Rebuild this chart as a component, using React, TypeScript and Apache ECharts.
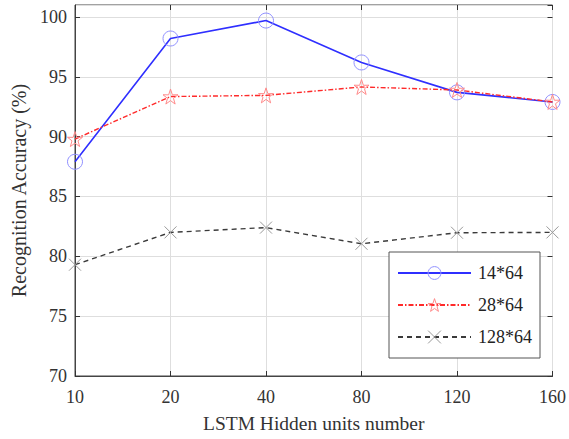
import React, { useEffect, useRef } from "react";
import * as echarts from "echarts";

const categories = ["10", "20", "40", "80", "120", "160"];
const series14 = [87.9, 98.2, 99.7, 96.2, 93.7, 92.9];
const series28 = [89.8, 93.35, 93.45, 94.15, 93.9, 92.9];
const series128 = [79.3, 82.0, 82.4, 81.05, 81.97, 82.0];
const seriesNames = ["14*64", "28*64", "128*64"];
const markerColors = ["#9090ff", "#ff8a8a", "#999999"];

const FONT = "Liberation Serif";
const STAR =
  "path://M50,0 L61.8,35.1 L97.6,34.5 L69,56.1 L79.4,90.5 L50,69.7 L20.6,90.5 L31,56.1 L2.4,34.5 L38.2,35.1 Z";
const CROSS = "path://M0,0 L100,100 M100,0 L0,100";

export default function App() {
  const ref = useRef<HTMLDivElement>(null);
  useEffect(() => {
    if (!ref.current) return;
    const chart = echarts.init(ref.current, null, { renderer: "svg" });
    const tick = { show: true, inside: true, length: 5, lineStyle: { color: "#333" } };
    chart.setOption({
      animation: false,
      backgroundColor: "#fff",
      textStyle: { fontFamily: FONT },
      grid: {
        left: 75,
        right: 16,
        top: 5,
        bottom: 63,
        show: true,
        borderColor: "#444",
        borderWidth: 1,
        backgroundColor: "transparent",
      },
      legend: {
        data: seriesNames.map((n, i) => ({
          name: n,
          itemStyle: { color: "rgba(0,0,0,0)", borderColor: markerColors[i], borderWidth: 1 },
        })),
        orient: "vertical",
        left: 389,
        top: 252,
        width: 153,
        padding: [12, 8, 12, 8],
        itemGap: 14,
        itemWidth: 73,
        itemHeight: 16,
        backgroundColor: "#fff",
        borderColor: "#555",
        borderWidth: 1,
        borderRadius: 0,
        textStyle: { fontFamily: FONT, fontSize: 18, color: "#222", padding: [0, 0, 0, 2] },
      },
      xAxis: [
        {
          type: "category",
          data: categories,
          boundaryGap: false,
          position: "bottom",
          name: "LSTM Hidden units number",
          nameLocation: "middle",
          nameGap: 37,
          nameTextStyle: { fontFamily: FONT, fontSize: 19.5, color: "#333" },
          axisLine: { show: true, lineStyle: { color: "#444" } },
          axisTick: { ...tick, alignWithLabel: true },
          axisLabel: { fontFamily: FONT, fontSize: 18, color: "#333", margin: 12 },
          splitLine: { show: true, lineStyle: { color: "#dedede" } },
        },
        {
          type: "category",
          data: categories,
          boundaryGap: false,
          position: "top",
          axisLine: { show: false },
          axisTick: { ...tick, alignWithLabel: true },
          axisLabel: { show: false },
          splitLine: { show: false },
        },
      ],
      yAxis: [
        {
          type: "value",
          min: 70,
          max: 101,
          interval: 5,
          position: "left",
          name: "Recognition Accuracy (%)",
          nameLocation: "middle",
          nameGap: 46,
          nameTextStyle: { fontFamily: FONT, fontSize: 20, color: "#333" },
          axisLine: { show: true, lineStyle: { color: "#444" } },
          axisTick: tick,
          axisLabel: {
            fontFamily: FONT,
            fontSize: 18,
            color: "#333",
            margin: 8,
            showMaxLabel: false,
            formatter: (v: number) => (v % 5 === 0 ? String(v) : ""),
          },
          splitLine: { show: true, lineStyle: { color: "#dedede" } },
        },
        {
          type: "value",
          min: 70,
          max: 101,
          interval: 5,
          position: "right",
          axisLine: { show: false },
          axisTick: tick,
          axisLabel: { show: false },
          splitLine: { show: false },
        },
      ],
      series: [
        {
          name: seriesNames[0],
          type: "line",
          data: series14,
          symbol: "circle",
          symbolSize: 15,
          showAllSymbol: true,
          lineStyle: { color: "#2f2fff", width: 1.6, type: "solid" },
          itemStyle: { color: "rgba(0,0,0,0)", borderColor: markerColors[0], borderWidth: 1 },
          z: 3,
        },
        {
          name: seriesNames[1],
          type: "line",
          data: series28,
          symbol: STAR,
          symbolSize: 15,
          showAllSymbol: true,
          lineStyle: { color: "#ff2a2a", width: 1.4, type: [5, 2, 1.5, 2] },
          itemStyle: { color: "rgba(0,0,0,0)", borderColor: markerColors[1], borderWidth: 1 },
          z: 4,
        },
        {
          name: seriesNames[2],
          type: "line",
          data: series128,
          symbol: CROSS,
          symbolSize: 12,
          showAllSymbol: true,
          lineStyle: { color: "#3a3a3a", width: 1.4, type: [5, 4] },
          itemStyle: { color: "rgba(0,0,0,0)", borderColor: markerColors[2], borderWidth: 1 },
          z: 2,
        },
      ],
    });
    return () => chart.dispose();
  }, []);
  return <div ref={ref} style={{ width: 569, height: 439, position: "absolute", left: 0, top: 0 }} />;
}
